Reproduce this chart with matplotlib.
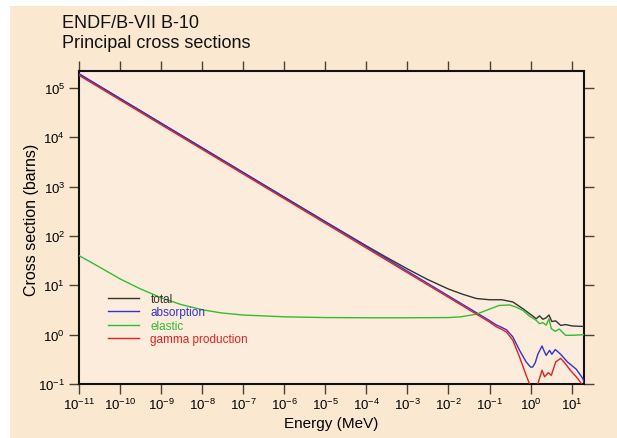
import matplotlib
matplotlib.use("Agg")
import matplotlib.pyplot as plt
from matplotlib.patches import Rectangle
from matplotlib.ticker import LogLocator, LogFormatterSciNotation, NullLocator

plt.rcParams['font.family'] = ['Liberation Sans', 'DejaVu Sans']

# ---- data (MeV, barns) ----
abs_E = [1e-11, 1e-10, 1e-9, 1e-8, 1e-7, 1e-6, 1e-5, 1e-4, 1e-3, 1e-2, 0.1,
         0.145, 0.2, 0.26, 0.37, 0.54, 0.78, 1.0, 1.12, 1.3, 1.5, 1.9, 2.15,
         2.4, 2.9, 3.3, 4.0, 5.4, 7.9, 12.9, 18.6, 20.0]
abs_v = [1.93e5, 6.1e4, 1.93e4, 6.1e3, 1.93e3, 610, 193, 61, 19.3, 6.1, 1.93,
         1.58, 1.4, 1.25, 0.9, 0.48, 0.28, 0.22, 0.22, 0.27, 0.4, 0.59, 0.46,
         0.38, 0.48, 0.4, 0.5, 0.4, 0.28, 0.2, 0.13, 0.11]

gam_E = [1e-11, 1e-10, 1e-9, 1e-8, 1e-7, 1e-6, 1e-5, 1e-4, 1e-3, 1e-2, 0.1,
         0.145, 0.2, 0.26, 0.37, 0.54, 0.78, 1.05, 1.5, 1.9, 2.2, 2.7, 3.2,
         4.1, 5.4, 6.5, 9.3, 14.0, 17.5, 20.0]
gam_v = [1.8e5, 5.7e4, 1.8e4, 5.7e3, 1.8e3, 570, 180, 57, 18.0, 5.7, 1.8,
         1.45, 1.28, 1.12, 0.77, 0.35, 0.15, 0.08, 0.1, 0.19, 0.14, 0.17, 0.15,
         0.28, 0.33, 0.28, 0.19, 0.13, 0.1, 0.08]

el_E = [1e-11, 3e-11, 1e-10, 3e-10, 1e-9, 3e-9, 1e-8, 3e-8, 1e-7, 1e-6,
        1e-5, 1e-4, 1e-3, 1e-2, 0.02, 0.048, 0.1, 0.17, 0.31, 0.45, 0.65,
        0.93, 1.37, 1.65, 2.0, 2.4, 2.8, 3.2, 4.0, 5.0, 7.1, 10.4, 20.0]
el_v = [40, 24, 13.5, 8.6, 5.6, 4.1, 3.2, 2.75, 2.5, 2.3,
        2.22, 2.2, 2.2, 2.22, 2.3, 2.6, 3.3, 3.9, 4.0, 3.6, 3.1,
        2.4, 1.95, 1.67, 1.75, 1.56, 2.1, 1.32, 1.17, 1.3, 0.97, 0.97, 1.0]

tot_E = [1e-11, 1e-10, 1e-9, 1e-8, 1e-7, 1e-6, 1e-5, 1e-4, 3e-4, 1e-3, 3e-3,
         1e-2, 0.022, 0.048, 0.1, 0.2, 0.37, 0.65, 1.12, 1.37, 1.65, 2.0, 2.4,
         2.8, 3.3, 4.1, 5.4, 7.1, 10.4, 18.6, 20.0]
tot_v = [1.93e5, 6.1e4, 1.93e4, 6.1e3, 1.93e3, 612, 195, 63, 37.4, 21.5, 13.3,
         8.4, 6.6, 5.4, 5.1, 5.1, 4.6, 3.35, 2.4, 2.1, 2.4, 2.05, 2.2,
         2.5, 1.85, 1.9, 1.54, 1.6, 1.5, 1.47, 1.47]

series = [
    ("total", tot_E, tot_v, "#333333"),
    ("absorption", abs_E, abs_v, "#3333cc"),
    ("elastic", el_E, el_v, "#33bb33"),
    ("gamma production", gam_E, gam_v, "#dd2222"),
]

W, H = 617, 439
fig = plt.figure(figsize=(W / 100, H / 100), dpi=100, facecolor="white")
bg = Rectangle((10 / W, 0), 1 - 10 / W, 1 - 7 / H,
               transform=fig.transFigure, facecolor="#fbe8d0",
               edgecolor="none", zorder=-10)
fig.add_artist(bg)

ax = fig.add_axes([79 / W, 1 - 385 / H, (584 - 79) / W, (385 - 72) / H])
ax.set_zorder(1)
ax.set_facecolor("#fcecdc")
ax.set_xscale("log")
ax.set_yscale("log")

# draw order: elastic, total, gamma, absorption (blue above red)
order = [2, 0, 3, 1]
for i in order:
    name, E, v, c = series[i]
    ax.plot(E, v, color=c, lw=1.0, label=name, zorder=3 + i)

ax.set_xlim(1e-11, 20)
ax.set_ylim(1e-1, 10 ** (5 + 17 / 49.5))

ax.xaxis.set_major_locator(LogLocator(base=10, numticks=20))
ax.yaxis.set_major_locator(LogLocator(base=10, numticks=20))
ax.xaxis.set_minor_locator(NullLocator())
ax.yaxis.set_minor_locator(NullLocator())
ax.xaxis.set_major_formatter(LogFormatterSciNotation())
ax.yaxis.set_major_formatter(LogFormatterSciNotation())

ax.tick_params(which="major", direction="out", length=7, width=1.0,
               color="#4a4038", labelsize=9.5, top=True, right=True,
               labeltop=False, labelright=False, pad=2)
ax.tick_params(axis="y", pad=3)
for s in ax.spines.values():
    s.set_linewidth(1.5)
    s.set_color("#111111")

ax.set_xlabel("Energy (MeV)", fontsize=11, labelpad=3)
ax.set_ylabel("Cross section (barns)", fontsize=11.5)
ax.yaxis.set_label_coords(-0.08, (385 - 220) / 313)

handles, labels = ax.get_legend_handles_labels()
hmap = dict(zip(labels, handles))
names = [s[0] for s in series]
leg = ax.legend([hmap[n] for n in names], names, loc="upper left",
                bbox_to_anchor=((108 - 79) / 505, (385 - 294) / 313),
                frameon=False, fontsize=8.5, handlelength=2.6,
                handletextpad=1.0, labelspacing=0.12, borderpad=0,
                borderaxespad=0, labelcolor="linecolor")

fig.text(62 / W, 1 - 28 / H, "ENDF/B-VII B-10", fontsize=13,
         va="baseline", ha="left", color="#111111")
fig.text(62 / W, 1 - 48 / H, "Principal cross sections", fontsize=13,
         va="baseline", ha="left", color="#111111")

fig.savefig("out.png", dpi=100, facecolor="white")
